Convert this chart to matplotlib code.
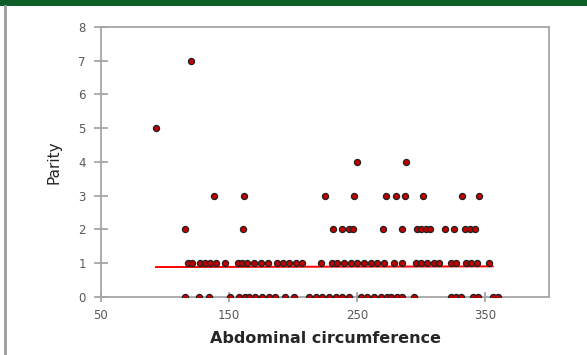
import numpy as np
import matplotlib.pyplot as plt
from matplotlib.patches import Rectangle
from matplotlib.lines import Line2D

# abdominal circumference readings grouped by parity
parity_0 = [115.8, 126.2, 134, 151, 157.5, 162.8, 165.4, 170.6, 175.8, 181, 186.3,
            194, 200.6, 212.4, 217.6, 222.8, 228, 233.3, 238.5, 243.7, 253, 258,
            263.2, 268.5, 273.7, 276.3, 281.5, 285.5, 294.6, 323.3, 327.2, 331,
            340.3, 344.2, 355.9, 359.8]
parity_1 = [117.9, 121, 127.5, 131.4, 135.4, 139.8, 146.6, 156.8, 160, 164, 169.3,
            175, 180.3, 187.6, 192.3, 196.7, 202, 207, 221.5, 230.6, 234.5, 239.7,
            245, 249.7, 255.4, 260.6, 266, 271, 278.9, 285.5, 296, 300, 305, 310,
            314, 323.3, 327.2, 335, 339, 344, 353]
parity_2 = [115.3, 160.6, 231.4, 237.9, 243.7, 247, 270.6, 285.5, 296.7, 300.3,
            303.7, 307, 318.6, 325.9, 334.5, 338.4, 342]
parity_3 = [138, 162, 224.9, 248, 272.4, 280.5, 287.3, 301.6, 332, 345.2]
parity_4 = [249.7, 288]
parity_5 = [93]
parity_7 = [120.5]

# fitted linear trend
trend_x = [93, 356]
trend_y = [0.88, 0.90]

groups = [(0, parity_0), (1, parity_1), (2, parity_2), (3, parity_3),
          (4, parity_4), (5, parity_5), (7, parity_7)]
ac = np.concatenate([g for _, g in groups])
parity = np.concatenate([[p] * len(g) for p, g in groups])

axis_grey = '#A6A6A6'
text_grey = '#595959'

fig = plt.figure(figsize=(5.87, 3.55), dpi=100)
fig.patch.set_facecolor('white')

# green caption band and left page border
fig.patches.append(Rectangle((0, 1 - 6 / 355), 1, 6 / 355, transform=fig.transFigure,
                             facecolor='#0E5E2A', edgecolor='none', zorder=0))
fig.lines.append(Line2D([5 / 587, 5 / 587], [0, 1 - 6 / 355], transform=fig.transFigure,
                        color='#9A9A9A', linewidth=2))

ax = fig.add_axes([101 / 587, 1 - 296.7 / 355, 448 / 587, 269.7 / 355])

ax.plot(trend_x, trend_y, color='#FF0000', linewidth=1.4, zorder=2)
ax.plot(ac, parity, linestyle='none', marker='o', markersize=4.4,
        markerfacecolor='#C00000', markeredgecolor='#222222', markeredgewidth=0.9,
        zorder=3)

ax.set_xlim(50, 400)
ax.set_ylim(0, 8)
ax.set_xticks([50, 150, 250, 350])
ax.set_yticks(range(0, 9))

for side in ['left', 'bottom', 'top', 'right']:
    ax.spines[side].set_color(axis_grey)
    ax.spines[side].set_linewidth(1.3)

ax.tick_params(axis='y', direction='inout', length=10, width=1.3, color=axis_grey,
               labelsize=8.5, labelcolor=text_grey, pad=6)
ax.tick_params(axis='x', direction='inout', length=7, width=1.3, color=axis_grey,
               labelsize=8.5, labelcolor=text_grey, pad=5)

ax.set_xlabel('Abdominal circumference', fontsize=11.5, fontweight='bold',
              color='#262626', labelpad=7)
ax.set_ylabel('Parity', fontsize=11, color='#262626', labelpad=12)

fig.savefig('out.png', dpi=100)
